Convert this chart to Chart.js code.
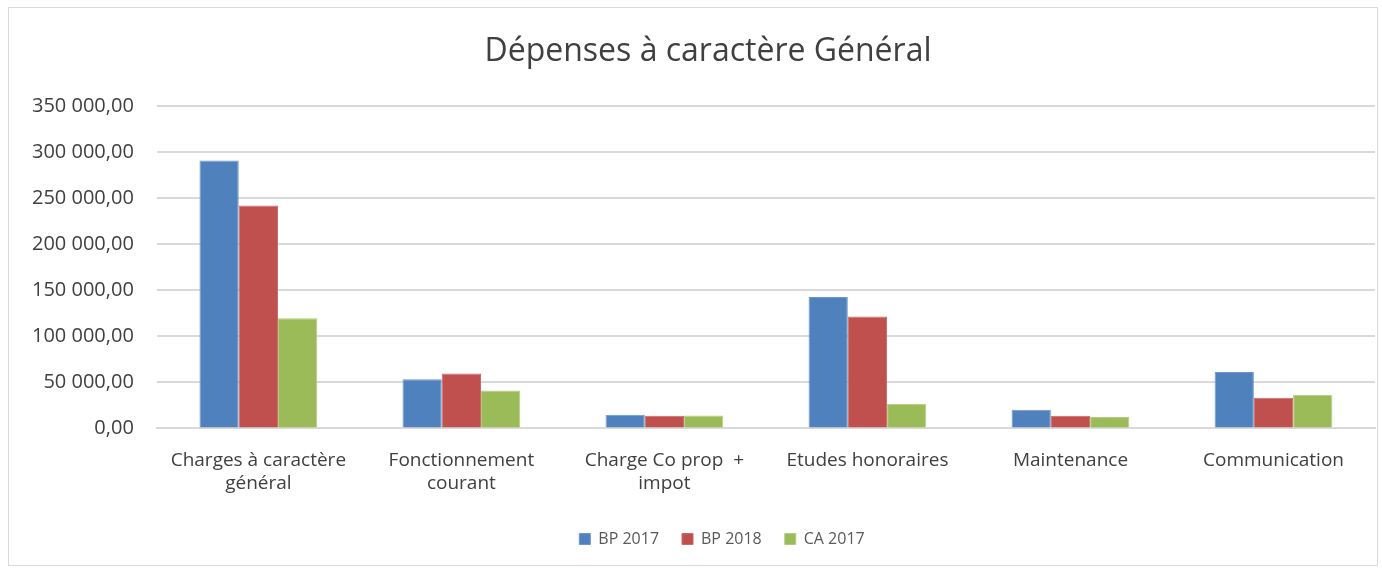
<!DOCTYPE html>
<html>
<head>
<meta charset="utf-8">
<script src="https://cdn.jsdelivr.net/npm/chart.js@4"></script>
<style>
  body { margin: 0; background: #fff; }
  #wrap { position: absolute; left: 8px; top: 7px; width: 1370px; height: 559px; border: 1px solid #d9d9d9; box-sizing: border-box; }
</style>
</head>
<body>
<div id="wrap"><canvas id="depenses"></canvas></div>
<script>
// donnees
const categories = [
  ["Charges à caractère", "général"],
  ["Fonctionnement", "courant"],
  ["Charge Co prop  +", "impot"],
  "Etudes honoraires",
  "Maintenance",
  "Communication"
];
const bp2017 = [291300, 53300, 14900, 142700, 20300, 61200];
const bp2018 = [242400, 59800, 13800, 121700, 13800, 33400];
const ca2017 = [119600, 41300, 14000, 26800, 12300, 36600];

function fmt(v) {
  const parts = Number(v).toFixed(2).split(".");
  return parts[0].replace(/\B(?=(\d{3})+(?!\d))/g, " ") + "," + parts[1];
}

// titre et legende un peu decales vers la droite
const shiftBlocks = {
  id: "shiftBlocks",
  afterLayout(chart) {
    chart.legend.left += 30;
    chart.legend.right += 30;
    chart.titleBlock.left += 16;
    chart.titleBlock.right += 16;
  }
};

new Chart(document.getElementById("depenses"), {
  type: "bar",
  data: {
    labels: categories,
    datasets: [
      { label: "BP 2017", data: bp2017, backgroundColor: "#4f81bd", borderColor: "#6d97cb", borderWidth: 1 },
      { label: "BP 2018", data: bp2018, backgroundColor: "#c0504d", borderColor: "#cc6a67", borderWidth: 1 },
      { label: "CA 2017", data: ca2017, backgroundColor: "#9bbb59", borderColor: "#b3cc80", borderWidth: 1 }
    ]
  },
  plugins: [shiftBlocks],
  options: {
    responsive: true,
    maintainAspectRatio: false,
    animation: false,
    layout: { padding: { left: 0, right: 2, top: 0, bottom: 8 } },
    datasets: { bar: { categoryPercentage: 0.58, barPercentage: 1 } },
    plugins: {
      title: {
        display: true,
        text: "Dépenses à caractère Général",
        color: "#404040",
        font: { family: "Open Sans", size: 32, weight: "normal" },
        padding: { top: 25, bottom: 35 }
      },
      legend: {
        position: "bottom",
        labels: {
          boxWidth: 11, boxHeight: 11, color: "#595959",
          font: { family: "Open Sans", size: 16 }, padding: 23
        }
      },
      tooltip: { enabled: false }
    },
    scales: {
      x: {
        grid: { display: false },
        border: { display: true, color: "#d9d9d9", width: 2 },
        ticks: { color: "#404040", font: { family: "Open Sans", size: 19 }, maxRotation: 0, autoSkip: false, padding: 13 }
      },
      y: {
        min: 0, max: 350000,
        grid: { color: "#d9d9d9", lineWidth: 2, drawTicks: false },
        border: { display: false },
        ticks: { stepSize: 50000, color: "#404040", font: { family: "Open Sans", size: 20 }, padding: 23, callback: v => fmt(v) }
      }
    }
  }
});
</script>
</body>
</html>
